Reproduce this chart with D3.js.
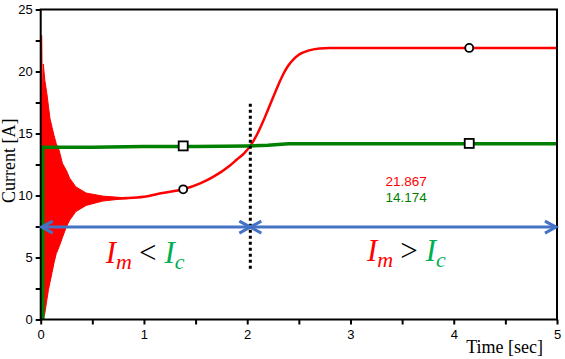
<!DOCTYPE html>
<html>
<head>
<meta charset="utf-8">
<script src="https://cdn.jsdelivr.net/npm/d3@7"></script>
<style>
  body { margin: 0; background: #fff; }
  text { font-family: "Liberation Sans", Arial, sans-serif; }
</style>
</head>
<body>
<div id="chart"></div>
<script>
// envelope of the start-up oscillation of Im
var envTime  = [0, 0.01, 0.015, 0.02, 0.025, 0.04, 0.06, 0.075, 0.09, 0.11, 0.13, 0.15, 0.18, 0.21, 0.25, 0.28, 0.34, 0.44, 0.6, 0.76, 0.85];
var envUpper = [22.9, 22.9, 18.6, 18.6, 20.6, 19.3, 18.2, 17.2, 16.2, 15.5, 14.8, 14.2, 13.6, 12.6, 12.0, 11.4, 10.7, 10.2, 9.95, 9.85, 9.8];
var envLower = [0, 0, 0, 0, 0, 0.5, 1.6, 2.4, 3.0, 3.8, 4.6, 5.3, 5.9, 6.6, 7.5, 8.0, 8.7, 9.2, 9.55, 9.7, 9.75];

// Im after the oscillation settles
var imTime = [0.6, 0.76, 0.85, 1.0, 1.18, 1.38, 1.55, 1.67, 1.83, 1.9, 1.97, 2.03, 2.1, 2.15, 2.2, 2.25, 2.3, 2.35, 2.4, 2.45, 2.5, 2.6, 2.7, 2.8, 3.2, 4.15, 5.0];
var imVal  = [9.75, 9.78, 9.8, 9.9, 10.2, 10.5, 11.0, 11.5, 12.4, 12.9, 13.4, 14.0, 15.0, 15.9, 16.9, 17.9, 18.9, 19.8, 20.5, 21.0, 21.35, 21.7, 21.85, 21.9, 21.9, 21.9, 21.9];

// Ic
var icTime = [0.02, 0.02, 0.1, 0.5, 1.0, 1.5, 2.0, 2.2, 2.4, 3.0, 4.0, 5.0];
var icVal  = [0, 13.9, 13.9, 13.9, 13.95, 13.95, 14.0, 14.05, 14.17, 14.17, 14.17, 14.17];

// markers
var markTime = [1.38, 4.15];
var imMarks = [10.5, 21.9];
var icMarks = [14.0, 14.2];

var xTicks = [0, 1, 2, 3, 4, 5];
var yTicks = [0, 5, 10, 15, 20, 25];
var finalValues = ["21.867", "14.174"];
var switchTime = 2.03;

var margin = {top: 9.5, right: 8, bottom: 39.5, left: 40.7},
    width = 565 - margin.left - margin.right,
    height = 359 - margin.top - margin.bottom;

var svg = d3.select("#chart").append("svg")
    .attr("width", 565)
    .attr("height", 359);

var g = svg.append("g")
    .attr("transform", "translate(" + margin.left + "," + margin.top + ")");

var x = d3.scaleLinear().domain([0, 5]).range([0, width]);
var y = d3.scaleLinear().domain([0, 25]).range([height, 0]);

var red = "#ff0000", green = "#008000", blue = "#4472c4";

// oscillation band
var env = envTime.map(function(t, i) { return {t: t, hi: envUpper[i], lo: envLower[i]}; });
g.append("path")
  .datum(env)
  .attr("fill", red)
  .attr("stroke", red)
  .attr("stroke-width", 1)
  .attr("d", d3.area()
    .x(function(d) { return x(d.t); })
    .y0(function(d) { return y(d.lo); })
    .y1(function(d) { return y(d.hi); }));

g.append("path")
  .datum(imTime.map(function(t, i) { return [t, imVal[i]]; }))
  .attr("fill", "none")
  .attr("stroke", red)
  .attr("stroke-width", 2.5)
  .attr("d", d3.line()
    .curve(d3.curveMonotoneX)
    .x(function(d) { return x(d[0]); })
    .y(function(d) { return y(d[1]); }));

g.append("path")
  .datum(icTime.map(function(t, i) { return [t, icVal[i]]; }))
  .attr("fill", "none")
  .attr("stroke", green)
  .attr("stroke-width", 3.5)
  .attr("d", d3.line()
    .x(function(d) { return x(d[0]); })
    .y(function(d) { return y(d[1]); }));

// axes
var xAxis = g.append("g")
  .attr("transform", "translate(0," + height + ")")
  .call(d3.axisBottom(x).tickValues(d3.range(0, 5.01, 0.5)).tickSize(5)
    .tickFormat(function(d) { return xTicks.indexOf(d) >= 0 ? d : ""; }));
var yAxis = g.append("g")
  .call(d3.axisLeft(y).tickValues(d3.range(0, 25.01, 2.5)).tickSize(5)
    .tickFormat(function(d) { return yTicks.indexOf(d) >= 0 ? d : ""; }));

[xAxis, yAxis].forEach(function(a) {
  a.select(".domain").remove();
  a.selectAll("line").attr("stroke", "#000").attr("stroke-width", 2);
  a.selectAll("text").attr("font-size", 13).attr("fill", "#000")
    .style("font-family", "'Liberation Sans', Arial, sans-serif");
});
xAxis.selectAll("text").attr("dy", "0.9em");
yAxis.selectAll("text").attr("x", -8);

g.append("rect")
  .attr("width", width).attr("height", height)
  .attr("fill", "none").attr("stroke", "#000").attr("stroke-width", 2);

// markers
g.selectAll(".circ").data(markTime).enter().append("circle")
  .attr("cx", function(d) { return x(d); })
  .attr("cy", function(d, i) { return y(imMarks[i]); })
  .attr("r", 4).attr("fill", "#fff").attr("stroke", "#000").attr("stroke-width", 1.8);

g.selectAll(".sq").data(markTime).enter().append("rect")
  .attr("x", function(d) { return x(d) - 4.5; })
  .attr("y", function(d, i) { return y(icMarks[i]) - 4.5; })
  .attr("width", 9).attr("height", 9)
  .attr("fill", "#fff").attr("stroke", "#000").attr("stroke-width", 1.8);

// switching instant
g.append("line")
  .attr("x1", x(switchTime)).attr("x2", x(switchTime))
  .attr("y1", y(17.4)).attr("y2", y(4.1))
  .attr("stroke", "#000").attr("stroke-width", 3).attr("stroke-dasharray", "3,3");

// double arrows
function arrow(t0, t1, v) {
  var ya = y(v);
  g.append("line")
    .attr("x1", x(t0)).attr("x2", x(t1)).attr("y1", ya).attr("y2", ya)
    .attr("stroke", blue).attr("stroke-width", 3);
  [[x(t0), 1], [x(t1), -1]].forEach(function(p) {
    g.append("path")
      .attr("d", "M" + (p[0] + p[1] * 11) + "," + (ya - 6) + "L" + p[0] + "," + ya + "L" + (p[0] + p[1] * 11) + "," + (ya + 6))
      .attr("fill", "none").attr("stroke", blue).attr("stroke-width", 3)
      .attr("stroke-linejoin", "miter");
  });
}
arrow(0.01, switchTime, 7.45);
arrow(switchTime, 4.99, 7.45);

// Im vs Ic labels
function relation(t, v, sym) {
  var tx = g.append("text")
    .attr("x", x(t)).attr("y", y(v))
    .style("font-family", "'Liberation Serif', 'Times New Roman', serif")
    .attr("font-size", 31);
  tx.append("tspan").attr("fill", red).attr("font-style", "italic").text("I");
  tx.append("tspan").attr("fill", red).attr("font-style", "italic").attr("font-size", 22).attr("dy", 6).text("m");
  tx.append("tspan").attr("fill", "#000").attr("dy", -6).attr("dx", 7).text(sym);
  tx.append("tspan").attr("fill", "#00b050").attr("font-style", "italic").attr("dx", 8).text("I");
  tx.append("tspan").attr("fill", "#00b050").attr("font-style", "italic").attr("font-size", 22).attr("dy", 6).text("c");
}
relation(0.63, 4.56, "<");
relation(3.16, 4.7, ">");

// final values
g.append("text").attr("x", x(3.34)).attr("y", y(10.8))
  .attr("font-size", 13.5).attr("fill", red).text(finalValues[0]);
g.append("text").attr("x", x(3.34)).attr("y", y(9.45))
  .attr("font-size", 13.5).attr("fill", green).text(finalValues[1]);

// axis titles
svg.append("text")
  .attr("transform", "translate(15," + (margin.top + y(12.8)) + ") rotate(-90)")
  .attr("text-anchor", "middle")
  .style("font-family", "'Liberation Serif', 'Times New Roman', serif")
  .attr("font-size", 18).text("Current [A]");
svg.append("text")
  .attr("x", 543).attr("y", 353)
  .attr("text-anchor", "end")
  .style("font-family", "'Liberation Serif', 'Times New Roman', serif")
  .attr("font-size", 18).text("Time [sec]");
</script>
</body>
</html>
